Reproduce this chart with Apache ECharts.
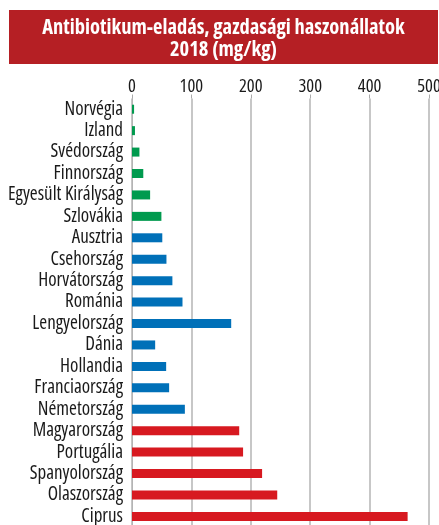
<!DOCTYPE html>
<html><head><meta charset="utf-8">
<script src="https://cdn.jsdelivr.net/npm/echarts@6/dist/echarts.min.js"></script>
<style>html,body{margin:0;padding:0;background:#fff}#c{width:439px;height:525px}</style>
</head><body><div id="c"></div>
<script>
const titleLines = ['Antibiotikum-eladás, gazdasági haszonállatok', '2018 (mg/kg)'];
const categories = ['Norvégia','Izland','Svédország','Finnország','Egyesült Királyság','Szlovákia','Ausztria','Csehország','Horvátország','Románia','Lengyelország','Dánia','Hollandia','Franciaország','Németország','Magyarország','Portugália','Spanyolország','Olaszország','Ciprus'];
const values = [3.5, 5, 12.5, 19, 30.5, 49.5, 51, 58, 68, 85, 167, 39, 57.5, 62.5, 89, 180.5, 187, 219, 244.5, 464];
const groups = ['low','low','low','low','low','low','mid','mid','mid','mid','mid','mid','mid','mid','mid','high','high','high','high','high'];
const tickValues = [0, 100, 200, 300, 400, 500];

const groupColor = {low: '#009a4e', mid: '#0070b8', high: '#d71920'};
const fam = '"Open Sans", sans-serif';

const chart = echarts.init(document.getElementById('c'), null, {renderer: 'canvas'});
chart.setOption({
  animation: false,
  graphic: [
    {type: 'rect', shape: {x: 9, y: 10, width: 429, height: 54}, style: {fill: '#b51f24'}, z: 0},
    {type: 'text', x: 223.5, y: 28, style: {text: titleLines[0], fill: '#fff', font: 'condensed bold 20.5px ' + fam, textAlign: 'center', textVerticalAlign: 'middle'}, z: 1},
    {type: 'text', x: 223.5, y: 50, style: {text: titleLines[1], fill: '#fff', font: 'condensed bold 20.5px ' + fam, textAlign: 'center', textVerticalAlign: 'middle'}, z: 1}
  ],
  grid: {left: 132, right: 10, top: 98.5, height: 428.6, containLabel: false, outerBoundsMode: 'none'},
  xAxis: {
    type: 'value', position: 'top', min: tickValues[0], max: tickValues[tickValues.length - 1], interval: 100,
    axisLine: {show: false},
    axisTick: {show: true, length: 4, lineStyle: {color: '#aaa', width: 1}},
    axisLabel: {margin: 2, color: '#1a1a1a', fontSize: 18.5, fontFamily: fam, fontStyle: 'condensed'},
    splitLine: {show: true, lineStyle: {color: '#b4b4b4', width: 1.5}}
  },
  yAxis: {
    type: 'category', data: categories, inverse: true,
    axisLine: {show: true, lineStyle: {color: '#b4b4b4', width: 1}},
    axisTick: {show: false},
    axisLabel: {interval: 0, margin: 9, color: '#1a1a1a', fontSize: 19, fontFamily: fam, fontStyle: 'condensed'}
  },
  series: [{
    type: 'bar', barWidth: 9,
    data: values.map((v, i) => ({value: v, itemStyle: {color: groupColor[groups[i]]}}))
  }]
});
</script></body></html>
